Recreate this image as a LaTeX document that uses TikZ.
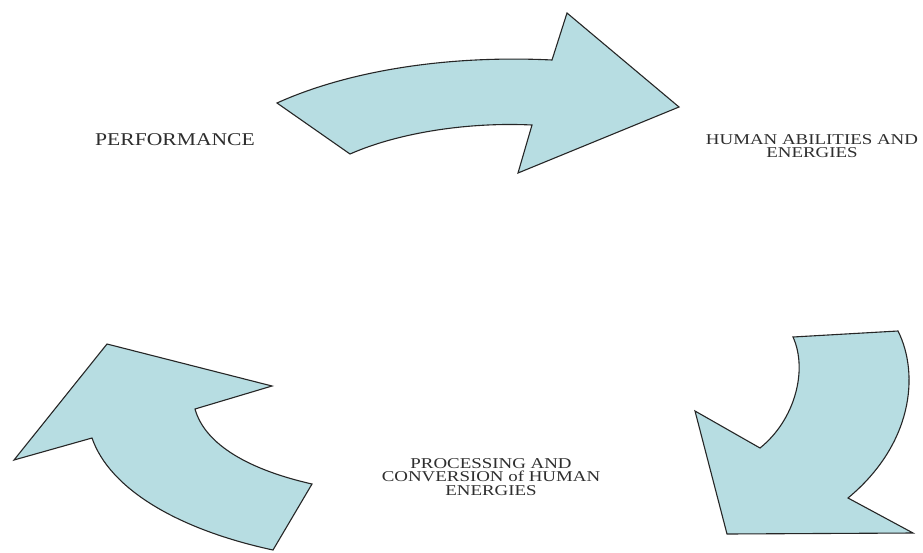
\documentclass[tikz,border=0pt]{standalone}
\usepackage{fontspec}
\newfontfamily\labfont[FakeStretch=1.26]{Liberation Serif}
\newfontfamily\bigfont[FakeStretch=1.2]{Liberation Serif}
\definecolor{arrowfill}{RGB}{183,221,226}
\begin{document}
\begin{tikzpicture}[x=1pt,y=-1pt,
  bigarrow/.style={fill=arrowfill,draw=black!85,line width=1.1pt,line join=miter},
  lab/.style={font=\labfont\fontsize{15}{13.5}\selectfont,align=center,inner sep=0pt,text=black!82},
  labbig/.style={font=\bigfont\fontsize{18}{16}\selectfont,align=center,inner sep=0pt,text=black!82}]
\useasboundingbox (0,0) rectangle (923,552);
\fill[white] (0,0) rectangle (923,552);
% top arrow
\draw[bigarrow] (277,103) .. controls (350,70) and (450,55) .. (552,60) -- (567,13) -- (679,107) -- (518,173) -- (532,125) .. controls (470,122) and (400,132) .. (350,154) -- cycle;
% bottom-right arrow
\draw[bigarrow] (793,337) -- (898,331) .. controls (920,375) and (912,445) .. (848,498) -- (913,533) -- (727,534) -- (695,411) -- (760,448) .. controls (795,420) and (808,370) .. (793,337) -- cycle;
% bottom-left arrow
\draw[bigarrow] (107,344) -- (272,386) -- (195,409) .. controls (205,445) and (250,470) .. (312,484) -- (273,550) .. controls (180,530) and (110,490) .. (92,438) -- (14,460) -- cycle;
% labels
\node[labbig] (perf) at (175,140) {PERFORMANCE};
\node[lab] (hum) at (812,146) {HUMAN ABILITIES AND\\ENERGIES};
\node[lab] (proc) at (491,477) {PROCESSING AND\\CONVERSION of HUMAN\\ENERGIES};
\end{tikzpicture}
\end{document}
